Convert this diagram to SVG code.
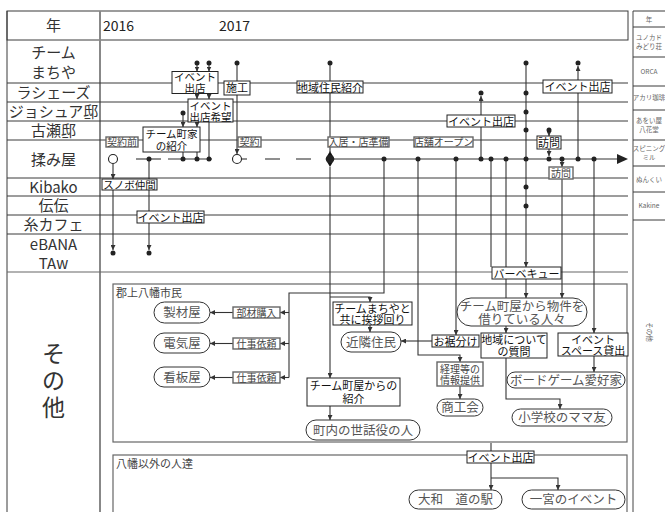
<svg xmlns="http://www.w3.org/2000/svg" width="665" height="512" viewBox="0 0 665 512">
<defs>
<marker id="a" viewBox="0 0 6 6" markerWidth="5" markerHeight="5" refX="6" refY="3" orient="auto" markerUnits="userSpaceOnUse"><path d="M0,0 L6,3 L0,6 z" fill="#333"/></marker>
</defs>
<style>
text{font-family:"Noto Sans CJK JP","Noto Sans",sans-serif}
.g{stroke:#3a3a3a;stroke-width:1;fill:none}
.c{stroke:#333;stroke-width:1.1;fill:none}
.ca{stroke:#333;stroke-width:1.1;fill:none;marker-end:url(#a)}
.bx{fill:#fff;stroke:#222;stroke-width:1}
.tg{fill:#fff;stroke:#666;stroke-width:1.4}
.pl{fill:#fff;stroke:#333;stroke-width:1}
.grp{fill:none;stroke:#666;stroke-width:1.2}
.d{fill:#222}
.lt{font-size:15px;fill:#333;text-anchor:middle}
.bt{font-size:11px;fill:#111;text-anchor:middle}
.bs{font-size:10.5px;fill:#111;text-anchor:middle}
.tt{font-size:10px;fill:#444;text-anchor:middle}
.pt{font-size:12.5px;fill:#555;text-anchor:middle}
.rt{font-size:6.5px;fill:#666;text-anchor:middle}
</style>
<rect width="665" height="512" fill="#fff"/>

<g id="grid">
<rect x="7" y="11" width="621" height="29" fill="none" stroke="#3a3a3a" stroke-width="1"/>
<line class="g" x1="7" y1="11" x2="7" y2="512"/>
<line x1="100" y1="11" x2="100" y2="512" stroke="#888" stroke-width="2"/>
<line class="g" x1="7" y1="83" x2="628" y2="83"/>
<line class="g" x1="7" y1="102" x2="628" y2="102"/>
<line class="g" x1="7" y1="121" x2="628" y2="121"/>
<line class="g" x1="7" y1="140" x2="628" y2="140"/>
<line class="g" x1="7" y1="178" x2="628" y2="178"/>
<line class="g" x1="7" y1="196" x2="628" y2="196"/>
<line class="g" x1="7" y1="215" x2="628" y2="215"/>
<line class="g" x1="7" y1="234" x2="628" y2="234"/>
<line x1="7" y1="272" x2="628" y2="272" stroke="#666" stroke-width="1.2"/>
<text class="lt" x="53.5" y="31">年</text>
<text x="103" y="31" font-size="14" fill="#222">2016</text>
<text x="219" y="31" font-size="14" fill="#222">2017</text>
<text class="lt" x="53.5" y="58">チーム<tspan x="53.5" dy="20">まちや</tspan></text>
<text class="lt" x="53.5" y="98">ラシェーズ</text>
<text class="lt" x="53.5" y="117">ジョシュア邸</text>
<text class="lt" x="53.5" y="136">古瀬邸</text>
<text class="lt" x="53.5" y="165">揉み屋</text>
<text class="lt" x="53.5" y="193">Kibako</text>
<text class="lt" x="53.5" y="211">伝伝</text>
<text class="lt" x="53.5" y="230">糸カフェ</text>
<text class="lt" x="53.5" y="250">eBANA<tspan x="53.5" dy="19">TAw</tspan></text>
<text x="53.5" y="362" font-size="23" fill="#333" text-anchor="middle">そ<tspan x="53.5" dy="27">の</tspan><tspan x="53.5" dy="27">他</tspan></text>
</g>

<g id="side-table">
<line x1="633" y1="11" x2="633" y2="512" stroke="#444" stroke-width="1"/>
<line class="g" x1="633" y1="11" x2="665" y2="11"/>
<line class="g" x1="633" y1="27" x2="665" y2="27"/>
<line class="g" x1="633" y1="57" x2="665" y2="57"/>
<line class="g" x1="633" y1="86" x2="665" y2="86"/>
<line class="g" x1="633" y1="110" x2="665" y2="110"/>
<line class="g" x1="633" y1="140" x2="665" y2="140"/>
<line class="g" x1="633" y1="166" x2="665" y2="166"/>
<line class="g" x1="633" y1="192" x2="665" y2="192"/>
<line class="g" x1="633" y1="220" x2="665" y2="220"/>
<text class="rt" x="649" y="22">年</text>
<text class="rt" x="649" y="40">ユノカド<tspan x="649" dy="9">みどり荘</tspan></text>
<text class="rt" x="649" y="74">ORCA</text>
<text class="rt" x="649" y="100">アカリ珈琲</text>
<text class="rt" x="649" y="123">あをい屋<tspan x="649" dy="9">八花堂</tspan></text>
<text class="rt" x="649" y="151">スピニング<tspan x="649" dy="9">ミル</tspan></text>
<text class="rt" x="649" y="182">ぬんくい</text>
<text class="rt" x="649" y="208">Kakine</text>
<text class="rt" x="0" y="0" transform="translate(647,332) rotate(90)">その他</text>
</g>

<g id="groups">
<rect class="grp" x="113" y="284" width="514" height="158"/>
<text x="116" y="297" font-size="11" fill="#444">郡上八幡市民</text>
<rect class="grp" x="113" y="455" width="514" height="70"/>
<text x="116" y="468" font-size="11" fill="#444">八幡以外の人達</text>
</g>

<g id="connectors">
<line class="c" x1="136" y1="159" x2="161" y2="159"/>
<line class="c" x1="168" y1="159" x2="212" y2="159"/>
<line class="c" x1="242" y1="159" x2="247" y2="159"/>
<line class="c" x1="265" y1="159" x2="280" y2="159"/>
<line class="c" x1="296" y1="159" x2="311" y2="159"/>
<line class="c" x1="330" y1="159" x2="618" y2="159"/>
<polygon points="617,154 628,159 617,164" fill="#222"/>
<path class="ca" d="M197,63 V71.5"/>
<path class="ca" d="M209,63 V71.5"/>
<path class="ca" d="M197,93.5 V99"/>
<path class="ca" d="M209,93.5 V99"/>
<path class="ca" d="M197,122 V127"/>
<path class="c" d="M197,152 V159"/>
<path class="c" d="M209,122 V159"/>
<path class="ca" d="M183,113 V127"/>
<path class="c" d="M183,152 V159"/>
<path class="c" d="M237,63 V81"/>
<path class="ca" d="M237,95 V154"/>
<path class="c" d="M330,63 V81"/>
<path class="c" d="M330,93 V152"/>
<path class="ca" d="M113,164 V179"/>
<path class="ca" d="M113,190 V250"/>
<path class="c" d="M149,159 V211"/>
<path class="ca" d="M149,223 V250"/>
<path class="ca" d="M481,115 V96"/>
<path class="c" d="M481,127 V159"/>
<path class="ca" d="M578,80 V66"/>
<path class="c" d="M578,93 V159"/>
<path class="ca" d="M549,130 V136"/>
<path class="ca" d="M549,149 V156"/>
<path class="ca" d="M526,63 V267"/>
<path class="ca" d="M526,279 V298"/>
<path class="ca" d="M562,159 V167"/>
<path class="ca" d="M562,179 V298"/>
<path class="c" d="M491,159 V267"/>
<path class="c" d="M506,159 V298"/>
<path class="ca" d="M506,326 V333"/>
<path class="ca" d="M506,358 V399 H560 V409"/>
<path class="ca" d="M594,159 V333"/>
<path class="ca" d="M594,356 V372"/>
<path class="c" d="M384,159 V293 H289 V377.5"/>
<path class="ca" d="M289,312.5 H280"/>
<path class="ca" d="M289,343.5 H280"/>
<path class="ca" d="M289,377.5 H280"/>
<path class="ca" d="M233,312.5 H210"/>
<path class="ca" d="M233,343.5 H210"/>
<path class="ca" d="M233,377.5 H210"/>
<path class="ca" d="M330,167 V378"/>
<path class="ca" d="M330,297 H370 V302"/>
<path class="ca" d="M370,325 V332"/>
<path class="ca" d="M330,406 V420"/>
<path class="ca" d="M418,159 V355 H460 V362"/>
<path class="ca" d="M460,386 V399"/>
<path class="ca" d="M456,159 V335"/>
<path class="ca" d="M432,341 H401"/>
<path class="c" d="M491,443 V451"/>
<path class="ca" d="M491,463 V490"/>
<path class="ca" d="M491,478 H558 V490"/>
</g>

<g id="points">
<circle cx="113" cy="159" r="4.5" fill="#fff" stroke="#222" stroke-width="1.1"/>
<circle cx="237" cy="159" r="4.5" fill="#fff" stroke="#222" stroke-width="1.1"/>
<polygon points="330,151 334.5,159 330,167 325.5,159" fill="#111"/>
<circle class="d" cx="330" cy="159" r="4"/>
<circle class="d" cx="149" cy="159" r="2.5"/>
<circle class="d" cx="183" cy="159" r="2.5"/>
<circle class="d" cx="197" cy="159" r="2.5"/>
<circle class="d" cx="209" cy="159" r="2.5"/>
<circle class="d" cx="384" cy="159" r="2.5"/>
<circle class="d" cx="418" cy="159" r="2.5"/>
<circle class="d" cx="456" cy="159" r="2.5"/>
<circle class="d" cx="481" cy="159" r="2.5"/>
<circle class="d" cx="491" cy="159" r="2.5"/>
<circle class="d" cx="506" cy="159" r="2.5"/>
<circle class="d" cx="526" cy="159" r="2.5"/>
<circle class="d" cx="549" cy="159" r="2.5"/>
<circle class="d" cx="562" cy="159" r="2.5"/>
<circle class="d" cx="578" cy="159" r="2.5"/>
<circle class="d" cx="594" cy="159" r="2.5"/>
<circle class="d" cx="197" cy="63" r="2.5"/>
<circle class="d" cx="209" cy="63" r="2.5"/>
<circle class="d" cx="237" cy="63" r="2.5"/>
<circle class="d" cx="330" cy="63" r="2.5"/>
<circle class="d" cx="526" cy="63" r="2.5"/>
<circle class="d" cx="578" cy="63" r="2.5"/>
<circle class="d" cx="183" cy="113" r="2.5"/>
<circle class="d" cx="481" cy="93" r="2.5"/>
<circle class="d" cx="526" cy="93" r="2.5"/>
<circle class="d" cx="526" cy="112" r="2.5"/>
<circle class="d" cx="526" cy="130" r="2.5"/>
<circle class="d" cx="526" cy="187" r="2.5"/>
<circle class="d" cx="526" cy="206" r="2.5"/>
<circle class="d" cx="549" cy="130" r="2.5"/>
<circle class="d" cx="113" cy="253" r="2.5"/>
<circle class="d" cx="149" cy="253" r="2.5"/>
</g>

<g id="n-event1"><rect class="bx" x="172" y="71.5" width="46" height="22"/><text class="bs" x="195" y="81">イベント<tspan x="195" dy="11">出店</tspan></text></g>
<g id="n-event-wish"><rect class="bx" x="188" y="99" width="45" height="23"/><text class="bs" x="210.5" y="109.5">イベント<tspan x="210.5" dy="11.2">出店希望</tspan></text></g>
<g id="n-intro"><rect class="bx" x="143" y="127" width="57" height="25"/><text class="bs" x="171.5" y="138">チーム町家<tspan x="171.5" dy="12">の紹介</tspan></text></g>
<g id="n-seko"><rect class="bx" x="224" y="81" width="26" height="14"/><text class="bt" x="237" y="92">施工</text></g>
<g id="n-chiiki"><rect class="bx" x="297" y="81" width="66" height="12"/><text class="bt" x="330" y="91.5">地域住民紹介</text></g>
<g id="n-event2"><rect class="bx" x="447" y="115" width="68" height="12"/><text class="bt" x="481" y="125.5">イベント出店</text></g>
<g id="n-event3"><rect class="bx" x="543" y="80" width="69" height="13"/><text class="bt" x="577.5" y="90.5">イベント出店</text></g>
<g id="n-homon1"><rect class="bx" x="537" y="136" width="24" height="13"/><text class="bt" x="549" y="146.5">訪問</text></g>
<g id="n-homon2"><rect class="tg" x="549" y="167" width="24" height="12"/><text class="tt" x="561" y="177">訪問</text></g>
<g id="n-keiyakumae"><rect class="tg" x="106" y="137" width="32" height="10"/><text class="tt" x="122" y="145.5">契約前</text></g>
<g id="n-keiyaku"><rect class="tg" x="238" y="137" width="23" height="10"/><text class="tt" x="249.5" y="145.5">契約</text></g>
<g id="n-nyukyo"><rect class="tg" x="328" y="137" width="61" height="10"/><text class="tt" x="358.5" y="145.5">入居・店準備</text></g>
<g id="n-open"><rect class="tg" x="414" y="137" width="59" height="10"/><text class="tt" x="443.5" y="145.5">店舗オープン</text></g>
<g id="n-snobo"><rect class="bx" x="102" y="179" width="55" height="11"/><text class="bs" x="129.5" y="188.5">スノボ仲間</text></g>
<g id="n-event4"><rect class="bx" x="137" y="211" width="67" height="12"/><text class="bt" x="170.5" y="221.5">イベント出店</text></g>
<g id="n-bbq"><rect class="bx" x="492" y="267" width="69" height="12"/><text class="bt" x="526.5" y="277.5">バーベキュー</text></g>
<g id="n-buzai"><rect class="tg" x="233" y="307" width="47" height="11"/><text class="tt" x="256.5" y="316.5">部材購入</text></g>
<g id="n-shigoto1"><rect class="tg" x="233" y="338" width="47" height="11"/><text class="tt" x="256.5" y="347.5">仕事依頼</text></g>
<g id="n-shigoto2"><rect class="tg" x="233" y="372" width="47" height="11"/><text class="tt" x="256.5" y="381.5">仕事依頼</text></g>
<g id="n-seizai"><rect class="pl" x="154" y="302" width="56" height="21" rx="10.5"/><text class="pt" x="182" y="317">製材屋</text></g>
<g id="n-denki"><rect class="pl" x="154" y="333" width="56" height="20" rx="10"/><text class="pt" x="182" y="347.5">電気屋</text></g>
<g id="n-kanban"><rect class="pl" x="154" y="367" width="56" height="20" rx="10"/><text class="pt" x="182" y="381.5">看板屋</text></g>
<g id="n-aisatsu"><rect class="bx" x="333" y="302" width="79" height="23"/><text class="bt" x="372.5" y="312.5">チームまちやと<tspan x="372.5" dy="11">共に挨拶回り</tspan></text></g>
<g id="n-kinrin"><rect class="pl" x="341" y="332" width="60" height="20" rx="10"/><text class="pt" x="371" y="346.5">近隣住民</text></g>
<g id="n-machiya-intro"><rect class="bx" x="307" y="378" width="93" height="28"/><text class="bt" x="353.5" y="390">チーム町屋からの<tspan x="353.5" dy="12.5">紹介</tspan></text></g>
<g id="n-sewayaku"><rect class="pl" x="306" y="420" width="114" height="20" rx="10"/><text class="pt" x="363" y="434.5">町内の世話役の人</text></g>
<g id="n-karite"><rect class="pl" x="457" y="298" width="130" height="28" rx="14"/><text class="pt" x="522" y="310.5">チーム町屋から物件を<tspan x="522" dy="13">借りている人々</tspan></text></g>
<g id="n-osuso"><rect class="bx" x="432" y="335" width="47" height="12"/><text class="bt" x="455.5" y="345.5">お裾分け</text></g>
<g id="n-shitsumon"><rect class="bx" x="481" y="333" width="66" height="25"/><text class="bt" x="514" y="344">地域について<tspan x="514" dy="12">の質問</tspan></text></g>
<g id="n-space"><rect class="bx" x="558" y="333" width="70" height="23"/><text class="bt" x="593" y="343.5">イベント<tspan x="593" dy="11">スペース貸出</tspan></text></g>
<g id="n-keiri"><rect class="tg" x="437" y="362" width="46" height="24"/><text class="tt" x="460" y="372.5">経理等の<tspan x="460" dy="11">情報提供</tspan></text></g>
<g id="n-boardgame"><rect class="pl" x="507" y="372" width="118" height="16" rx="8"/><text class="pt" x="566" y="384.5">ボードゲーム愛好家</text></g>
<g id="n-shokokai"><rect class="pl" x="437" y="399" width="46" height="17" rx="8.5"/><text class="pt" x="460" y="412">商工会</text></g>
<g id="n-mama"><rect class="pl" x="512" y="409" width="100" height="17" rx="8.5"/><text class="pt" x="562" y="422">小学校のママ友</text></g>
<g id="n-event5"><rect class="bx" x="467" y="451" width="67" height="12"/><text class="bt" x="500.5" y="461.5">イベント出店</text></g>
<g id="n-yamato"><rect class="pl" x="409" y="490" width="93" height="19" rx="9.5"/><text class="pt" x="455.5" y="504">大和　道の駅</text></g>
<g id="n-ichinomiya"><rect class="pl" x="522" y="490" width="103" height="19" rx="9.5"/><text class="pt" x="573.5" y="504">一宮のイベント</text></g>
</svg>
